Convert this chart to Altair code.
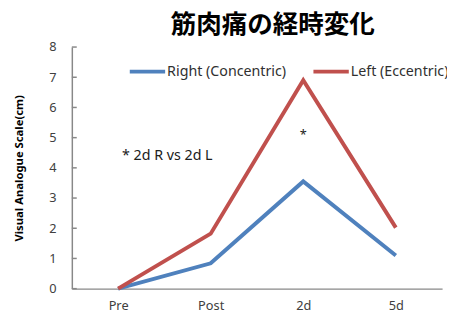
import altair as alt
import pandas as pd

categories = ["Pre", "Post", "2d", "5d"]
right_vals = [0, 0.84, 3.55, 1.1]
left_vals = [0, 1.82, 6.9, 2.02]
series_names = ["Right (Concentric)", "Left (Eccentric)"]
colors = ["#4F81BD", "#C0504D"]
y_ticks = [0, 1, 2, 3, 4, 5, 6, 7, 8]
note_text = "* 2d R vs 2d L"
note_pos = ("Pre", 4.4)
star_pos = ("2d", 5.08)

rows = []
for c, r, l in zip(categories, right_vals, left_vals):
    rows.append({"cat": c, "value": r, "series": series_names[0]})
    rows.append({"cat": c, "value": l, "series": series_names[1]})
df = pd.DataFrame(rows)

font = "Noto Sans"
xs = alt.Scale(domain=categories, paddingInner=0, paddingOuter=0.5)
ys = alt.Scale(domain=[0, 8], nice=False)

x_axis = alt.Axis(title=None, labelAngle=0, ticks=False, labelPadding=11,
                  domainColor="#888888", domainWidth=1.5, labelFontSize=13,
                  labelColor="#404040", labelFont=font)
y_axis = alt.Axis(title="Visual Analogue Scale(cm)", values=y_ticks, ticks=False,
                  grid=False, labelPadding=16, domainColor="#888888", domainWidth=1.5,
                  labelOverlap=False,
                  labelFontSize=13, labelColor="#404040", labelFont=font,
                  titleFont=font, titleFontSize=11.5, titleFontWeight="bold",
                  titleColor="#000000", titlePadding=25)

lines = alt.Chart(df).mark_line(strokeWidth=4).encode(
    x=alt.X("cat:N", scale=xs, sort=categories, axis=x_axis),
    y=alt.Y("value:Q", scale=ys, axis=y_axis),
    color=alt.Color("series:N", scale=alt.Scale(domain=series_names, range=colors),
                    legend=alt.Legend(title=None, orient="none", legendX=57, legendY=5,
                                      direction="horizontal", symbolType="stroke",
                                      symbolSize=1296, symbolStrokeWidth=4,
                                      labelFontSize=14.5, labelFont=font, labelColor="#303030",
                                      columnPadding=19, labelOffset=0)),
)

tick_df = pd.DataFrame({"t": y_ticks})
ticks = alt.Chart(tick_df).mark_rule(color="#888888", strokeWidth=1.5).encode(
    y=alt.Y("t:Q", scale=ys, axis=y_axis), x=alt.value(0), x2=alt.value(5)
)

notes_df = pd.DataFrame({
    "cat": [note_pos[0], star_pos[0]],
    "value": [note_pos[1], star_pos[1]],
    "label": [note_text, "*"],
})
note = alt.Chart(notes_df.iloc[[0]]).mark_text(align="left", dx=4, fontSize=14.5, font=font,
                                                color="#202020").encode(
    x=alt.X("cat:N", scale=xs, sort=categories, axis=x_axis),
    y=alt.Y("value:Q", scale=ys, axis=y_axis), text="label:N")
star = alt.Chart(notes_df.iloc[[1]]).mark_text(align="center", fontSize=13, font=font,
                                                color="#202020").encode(
    x=alt.X("cat:N", scale=xs, sort=categories, axis=x_axis),
    y=alt.Y("value:Q", scale=ys, axis=y_axis), text="label:N")

chart = alt.layer(lines, ticks, note, star).properties(
    width=377, height=246,
    title=alt.TitleParams("筋肉痛の経時変化", font="Noto Sans CJK JP", fontSize=26,
                          fontWeight="bold", color="#000000", anchor="middle", dx=16, offset=3),
    autosize=alt.AutoSizeParams(type="none"),
    padding={"left": 65, "top": 37, "right": 5, "bottom": 20},
).configure_view(stroke=None)

chart.save("out.html", embed_options={"renderer": "svg", "actions": False})
